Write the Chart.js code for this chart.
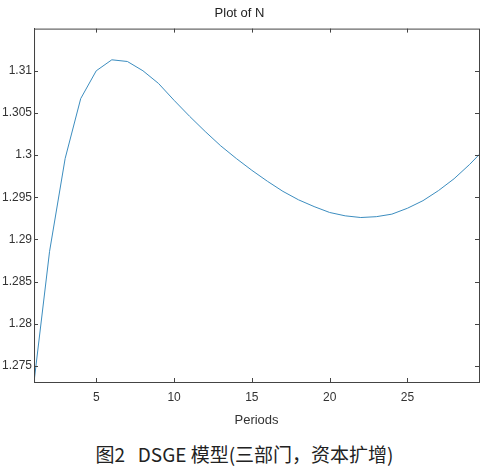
<!DOCTYPE html>
<html>
<head>
<meta charset="utf-8">
<script src="https://cdn.jsdelivr.net/npm/chart.js@4"></script>
<style>
  body { margin: 0; background: #fff; width: 489px; height: 475px; overflow: hidden; }
  #wrap { position: absolute; left: 0; top: 0; width: 489px; height: 428px; }
  #caption { position: absolute; left: 0; width: 489px; top: 440px; text-align: center;
    font-family: "Noto Sans CJK SC", sans-serif; font-size: 19px; color: #222; }
</style>
</head>
<body>
<div id="wrap"><canvas id="c"></canvas></div>
<div id="caption">图2&nbsp;&nbsp;&nbsp;DSGE 模型(三部门，资本扩增)</div>
<script>
// 期数与 N 的取值
const periods = [1, 2, 3, 4, 5, 6, 7, 8, 9, 10, 11, 12, 13, 14, 15, 16, 17, 18, 19, 20, 21, 22, 23, 24, 25, 26, 27, 28, 29, 30];
const nValues = [1.2731, 1.2886, 1.2996, 1.3067, 1.3100, 1.3113, 1.3111, 1.3100, 1.3085, 1.3065, 1.3046, 1.3028, 1.3011, 1.2996, 1.2982, 1.2969, 1.2957, 1.2947, 1.2939, 1.2932, 1.2928, 1.2926, 1.2927, 1.2930, 1.2937, 1.2946, 1.2958, 1.2972, 1.2989, 1.3008];
const yTicks = [1.275, 1.28, 1.285, 1.29, 1.295, 1.3, 1.305, 1.31];

const points = periods.map((p, i) => ({ x: p, y: nValues[i] }));

new Chart(document.getElementById('c'), {
  type: 'line',
  data: { datasets: [{ data: points, borderColor: '#3c8dbf', borderWidth: 1, pointRadius: 0, tension: 0 }] },
  options: {
    responsive: true, maintainAspectRatio: false, animation: false,
    layout: { padding: { left: 0, right: 10, top: 6, bottom: 0 } },
    plugins: {
      legend: { display: false },
      tooltip: { enabled: false },
      title: { display: true, text: 'Plot of N', color: '#222', font: { family: 'Liberation Sans', size: 13, weight: 'normal' }, padding: { top: 0, bottom: 7 } }
    },
    scales: {
      x: {
        type: 'linear', min: 1, max: 29.6,
        afterBuildTicks: ax => { ax.ticks = [5, 10, 15, 20, 25].map(v => ({ value: v })); },
        grid: { display: false, drawTicks: false },
        border: { color: '#444' },
        ticks: { color: '#333', font: { family: 'Liberation Sans', size: 12 }, padding: 8 },
        title: { display: true, text: 'Periods', color: '#333', font: { family: 'Liberation Sans', size: 13 }, padding: { top: 0, bottom: 0 } }
      },
      y: {
        min: 1.2731, max: 1.315,
        afterBuildTicks: ax => { ax.ticks = yTicks.map(v => ({ value: v })); },
        grid: { display: false, drawTicks: false },
        border: { color: '#444' },
        ticks: { color: '#333', font: { family: 'Liberation Sans', size: 12 }, padding: 2, callback: v => String(v) }
      }
    }
  },
  plugins: [{
    id: 'frame',
    afterDraw(chart) {
      const { ctx, chartArea: a, scales } = chart;
      ctx.save();
      ctx.strokeStyle = '#444'; ctx.lineWidth = 1;
      ctx.strokeRect(a.left + 0.5, a.top + 0.5, a.right - a.left, a.bottom - a.top);
      ctx.beginPath();
      [5, 10, 15, 20, 25].forEach(v => {
        const x = Math.round(scales.x.getPixelForValue(v)) + 0.5;
        ctx.moveTo(x, a.bottom); ctx.lineTo(x, a.bottom - 4);
        ctx.moveTo(x, a.top); ctx.lineTo(x, a.top + 4);
      });
      yTicks.forEach(v => {
        const y = Math.round(scales.y.getPixelForValue(v)) + 0.5;
        ctx.moveTo(a.left, y); ctx.lineTo(a.left + 4, y);
        ctx.moveTo(a.right, y); ctx.lineTo(a.right - 4, y);
      });
      ctx.stroke();
      ctx.restore();
    }
  }]
});
</script>
</body>
</html>
